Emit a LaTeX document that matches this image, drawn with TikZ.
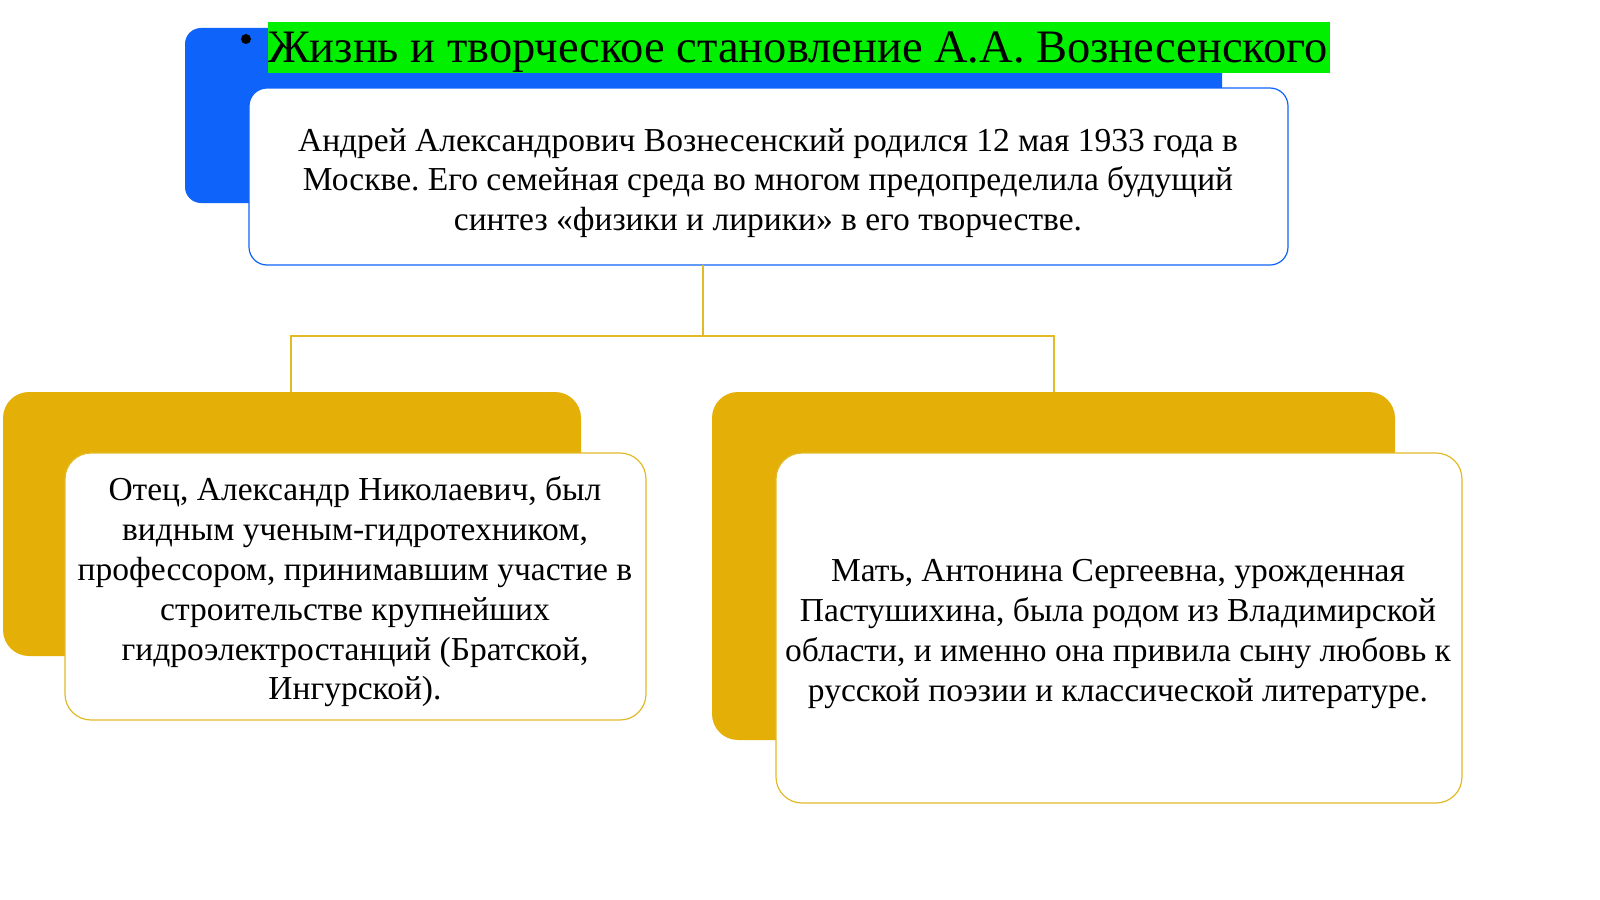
\documentclass[tikz,border=0pt]{standalone}
\usepackage{fontspec}
\setmainfont{Liberation Serif}
\frenchspacing
\definecolor{bblue}{RGB}{14,100,250}
\definecolor{tgreen}{RGB}{0,240,0}
\definecolor{gold}{RGB}{228,176,8}
\definecolor{goldline}{RGB}{226,186,40}
\begin{document}
\begin{tikzpicture}[x=1pt,y=-1pt,
  frontbox/.style={fill=white,draw=#1,line width=1.2pt,rounded corners=18pt},
  body/.style={font=\fontsize{33.5}{39.8}\selectfont,align=center,text=black,inner sep=0pt},
  conn/.style={draw=goldline,line width=1.2pt}]
\useasboundingbox[fill=white] (0,0) rectangle (1600,899);
% top group
\fill[bblue,rounded corners=16pt] (185,28) rectangle (1222,203);
\fill[tgreen] (268,22) rectangle (1330,73);
\node[inner sep=0pt,anchor=base west,font=\fontsize{46.5}{50}\selectfont,text=black] (title) at (268,63)
  {Жизнь и творческое становление А.А. Вознесенского};
\fill[black] (246,39) circle (5pt);
\draw[frontbox=bblue] (249,88) rectangle (1288,265);
\node[body] (top) at (768,183) {Андрей Александрович Вознесенский родился 12 мая 1933 года в\\Москве. Его семейная среда во многом предопределила будущий\\синтез «физики и лирики» в его творчестве.};
\coordinate (tb) at (703,265);
% left group
\fill[gold,rounded corners=26pt] (3,392) rectangle (581,656);
\draw[frontbox=goldline,rounded corners=26pt] (65,453) rectangle (646,720);
\node[body] (left) at (355,592) {Отец, Александр Николаевич, был\\видным ученым-гидротехником,\\профессором, принимавшим участие в\\строительстве крупнейших\\гидроэлектростанций (Братской,\\Ингурской).};
\coordinate (lt) at (291,392);
% right group
\fill[gold,rounded corners=26pt] (712,392) rectangle (1395,740);
\draw[frontbox=goldline,rounded corners=26pt] (776,453) rectangle (1462,803);
\node[body] (right) at (1118,634) {Мать, Антонина Сергеевна, урожденная\\Пастушихина, была родом из Владимирской\\области, и именно она привила сыну любовь к\\русской поэзии и классической литературе.};
\coordinate (rt) at (1054,392);
% connectors
\draw[conn] (tb) -- (703,336) -| (lt);
\draw[conn] (703,336) -| (rt);
\end{tikzpicture}
\end{document}
